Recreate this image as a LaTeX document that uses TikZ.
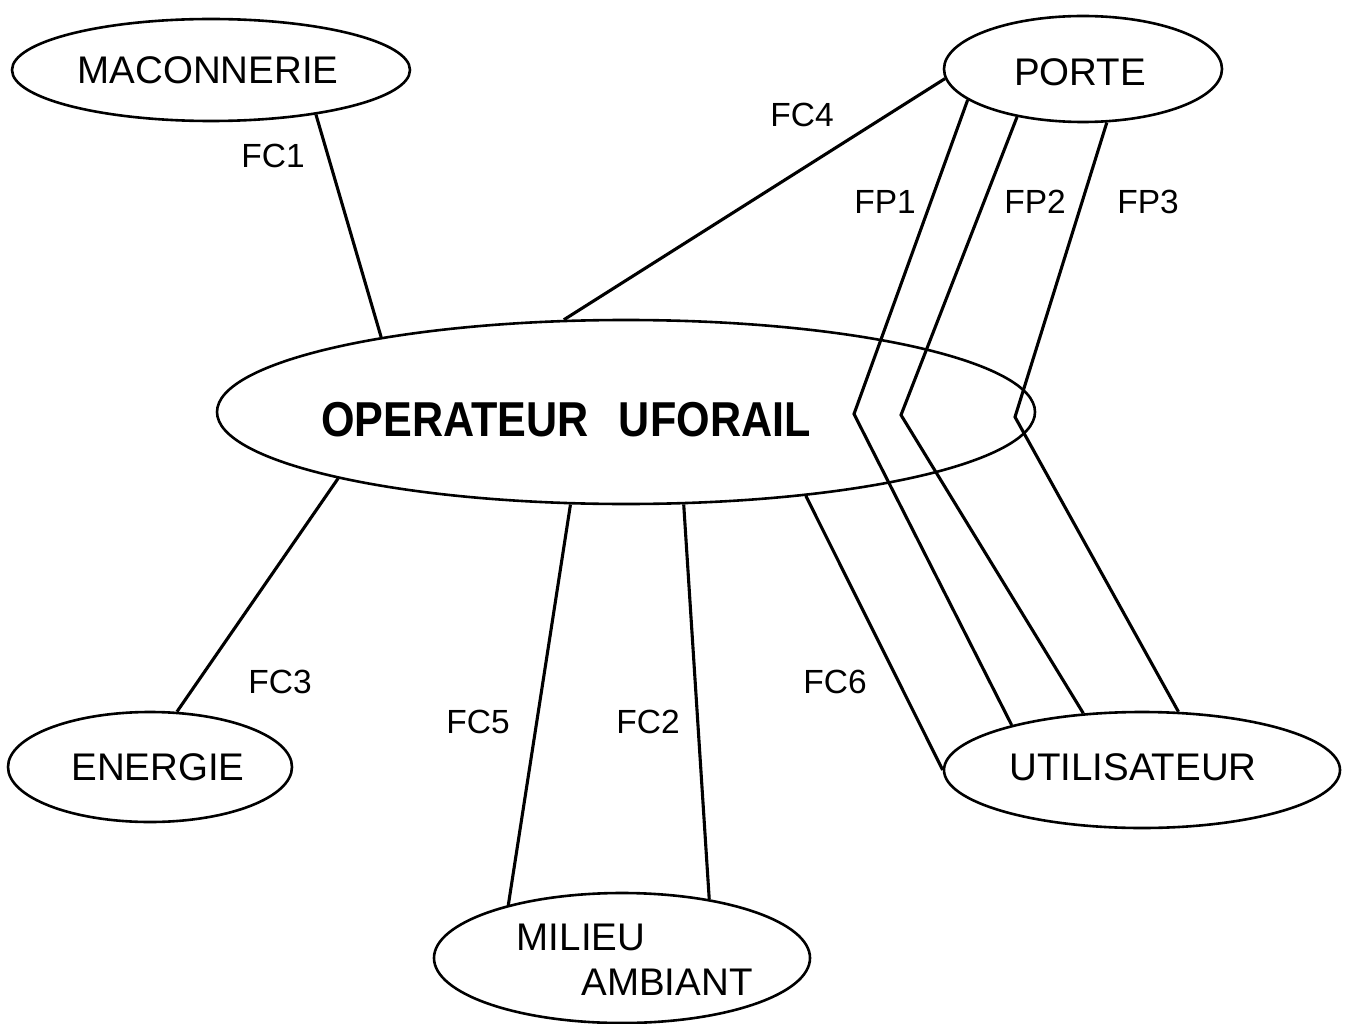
\documentclass[tikz,border=0pt]{standalone}
\usepackage{fontspec}
\usepackage{graphicx}
\setmainfont{Liberation Sans}
\usetikzlibrary{shapes.geometric}
\begin{document}
\begin{tikzpicture}[x=1pt,y=-1pt,
  ell/.style={draw,ellipse,line width=2.6pt,inner sep=0pt},
  conn/.style={line width=3.1pt,line join=miter},
  nametxt/.style={inner sep=0pt,font=\fontsize{38.5}{40}\selectfont},
  labtxt/.style={inner sep=0pt,font=\fontsize{33.5}{36}\selectfont}]
\useasboundingbox (0,0) rectangle (1346,1024);
% ellipses
\node[ell,minimum width=398pt,minimum height=102pt] (mac) at (211,70) {};
\node[ell,minimum width=278pt,minimum height=106pt] (porte) at (1083,69) {};
\node[ell,minimum width=818pt,minimum height=184pt] (op) at (626,412) {};
\node[ell,minimum width=284pt,minimum height=110pt] (ener) at (150,767) {};
\node[ell,minimum width=396pt,minimum height=116pt] (util) at (1142,770) {};
\node[ell,minimum width=376pt,minimum height=130pt] (mil) at (622,958) {};
% texts
\node[nametxt] (tmac) at (208,70) {MACONNERIE};
\node[nametxt] (tporte) at (1080,72) {PORTE};
\node[inner sep=0pt,font=\fontsize{49}{51}\selectfont\bfseries] (top) at (566,420) {\scalebox{0.88}[1]{OPERATEUR\hspace{0.7em}UFORAIL}};
\node[nametxt] (tener) at (158,767) {ENERGIE};
\node[nametxt] (tutil) at (1133,767) {UTILISATEUR};
\node[nametxt] (tmil1) at (581,937) {MILIEU};
\node[nametxt] (tmil2) at (667,982) {AMBIANT};
% kink points
\coordinate (k1) at (854,414);
\coordinate (k2) at (901,415);
\coordinate (k3) at (1015,417);
% connectors
\draw[conn] (mac.-23) -- (op.163);
\draw[conn] (porte.-176) -- (op.124);
\draw[conn] (porte.-165) -- (k1) -- (util.161);
\draw[conn] (porte.-144) -- (k2) -- (util.136);
\draw[conn] (porte.-66) -- (k3) -- (util.58);
\draw[conn] (op.-25) -- (util.180);
\draw[conn] (op.-121) -- (mil.155);
\draw[conn] (op.-58) -- (mil.34);
\draw[conn] (op.-167) -- (ener.64);
% labels
\node[labtxt] (l1) at (273,156) {FC1};
\node[labtxt] (l4) at (802,115) {FC4};
\node[labtxt] (p1) at (885,202) {FP1};
\node[labtxt] (p2) at (1035,202) {FP2};
\node[labtxt] (p3) at (1148,202) {FP3};
\node[labtxt] (l3) at (280,682) {FC3};
\node[labtxt] (l5) at (478,722) {FC5};
\node[labtxt] (l2) at (648,722) {FC2};
\node[labtxt] (l6) at (835,682) {FC6};
\end{tikzpicture}
\end{document}
